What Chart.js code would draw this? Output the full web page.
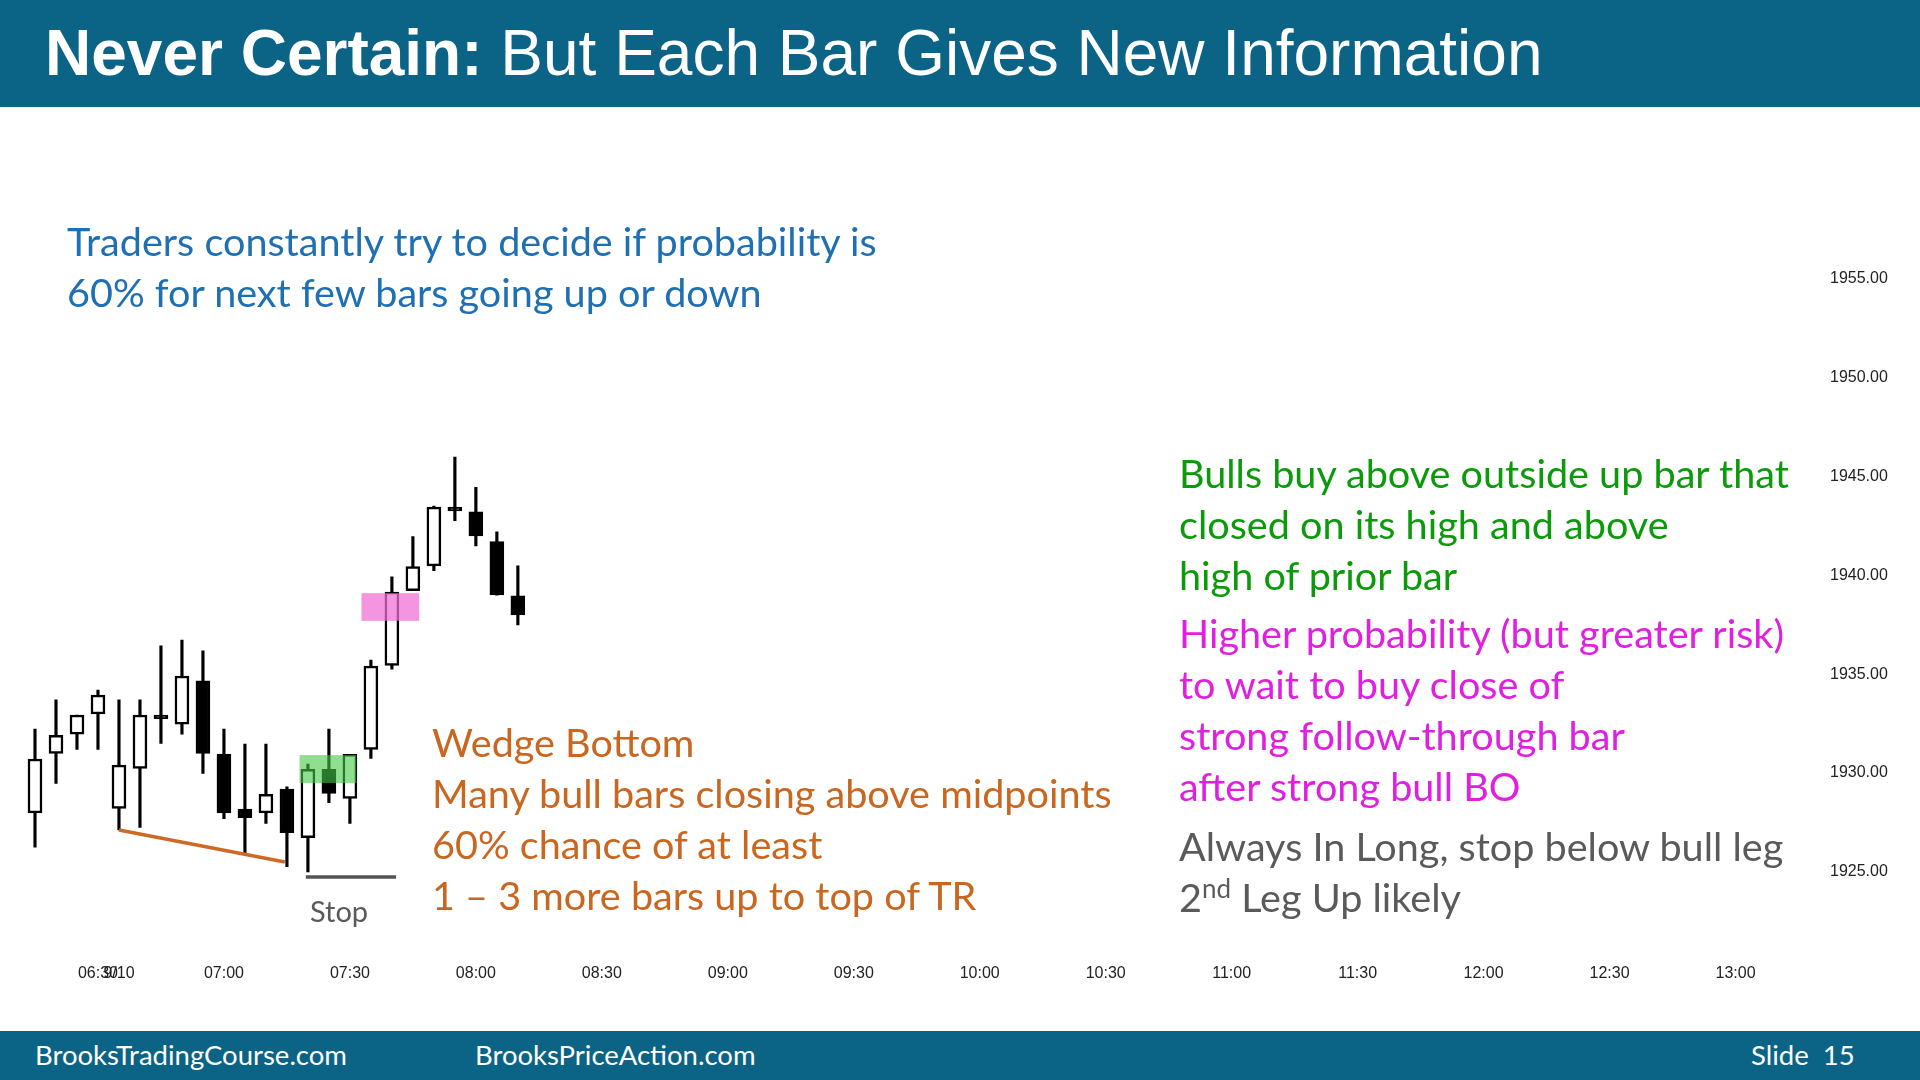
<!DOCTYPE html>
<html>
<head>
<meta charset="utf-8">
<script src="https://cdn.jsdelivr.net/npm/chart.js@4.4.0/dist/chart.umd.min.js"></script>
<style>
  body { margin: 0; width: 1920px; height: 1080px; background: #fff; position: relative; overflow: hidden; font-family: Lato, "Open Sans", sans-serif; }
  .bar { position: absolute; left: 0; width: 1920px; background: #0b6386; color: #fff; }
  #top { top: 0; height: 107px; }
  #top h1 { margin: 0; position: absolute; left: 45px; top: 16px; font: 64px "Liberation Sans", Arial, sans-serif; white-space: nowrap; }
  #bottom { top: 1031px; height: 49px; font-size: 27.5px; }
  #bottom span { position: absolute; top: 7px; }
  #wrap { position: absolute; left: 0; top: 107px; width: 1920px; height: 923px; }
  .txt { position: absolute; font-size: 39.6px; line-height: 51px; white-space: nowrap; }
</style>
</head>
<body>
<div class="bar" id="top"><h1><b>Never Certain:</b> But Each Bar Gives New Information</h1></div>
<div id="wrap"><canvas id="c" width="1920" height="923"></canvas></div>

<div class="txt" style="left:67px;top:215px;color:#1f6fb4">Traders constantly try to decide if probability is<br>60% for next few bars going up or down</div>
<div class="txt" style="left:1179px;top:447px;color:#0a9a0a">Bulls buy above outside up bar that<br>closed on its high and above<br>high of prior bar</div>
<div class="txt" style="left:1179px;top:607px;color:#e020e0">Higher probability (but greater risk)<br>to wait to buy close of<br>strong follow-through bar<br>after strong bull BO</div>
<div class="txt" style="left:1179px;top:820px;color:#5a5a5a">Always In Long, stop below bull leg<br>2<sup style="font-size:26px;line-height:0">nd</sup> Leg Up likely</div>
<div class="txt" style="left:432px;top:716px;color:#c9661f">Wedge Bottom<br>Many bull bars closing above midpoints<br>60% chance of at least<br>1 – 3 more bars up to top of TR</div>
<div class="txt" style="left:310px;top:894px;color:#5a5a5a;font-size:29px;line-height:34px">Stop</div>

<div class="bar" id="bottom">
  <span style="left:35px">BrooksTradingCourse.com</span>
  <span style="left:475px">BrooksPriceAction.com</span>
  <span style="left:1751px">Slide&nbsp;&nbsp;15</span>
</div>

<script>
// 5-minute bars, 9/10 session
const opens  = [1927.98, 1931.0, 1931.97, 1932.99, 1928.21, 1930.24, 1932.94, 1932.48, 1934.67, 1930.96, 1928.18, 1927.99,
                1929.19, 1926.73, 1930.19, 1928.72, 1931.2, 1935.45, 1939.23, 1940.48, 1943.45, 1943.22, 1941.71, 1938.97];
const highs  = [1932.23, 1933.7, 1932.94, 1934.2, 1933.7, 1933.7, 1936.44, 1936.73, 1936.19, 1932.23, 1931.47, 1931.47,
                1929.3, 1930.46, 1932.23, 1930.95, 1935.72, 1939.93, 1941.96, 1943.5, 1945.98, 1944.46, 1942.2, 1940.48];
const lows   = [1926.25, 1929.48, 1931.2, 1931.2, 1927.12, 1927.25, 1931.5, 1931.97, 1929.98, 1927.7, 1925.94, 1927.45,
                1925.26, 1925.0, 1928.5, 1927.45, 1930.74, 1935.25, 1939.23, 1940.24, 1942.77, 1941.49, 1939.0, 1937.49];
const closes = [1930.71, 1931.91, 1932.94, 1933.95, 1930.4, 1932.94, 1932.75, 1934.91, 1931.0, 1927.99, 1927.74, 1928.92,
                1926.98, 1930.19, 1928.97, 1930.95, 1935.41, 1939.16, 1940.44, 1943.45, 1943.26, 1942.0, 1939.01, 1938.0];
const yTicks = [1925, 1930, 1935, 1940, 1945, 1950, 1955];

// x categories: one per 5-minute slot, first bar 06:15
const slots = [];
for (let m = 6 * 60 + 15; slots.length < 86; m += 5) {
  slots.push(String(Math.floor(m / 60)).padStart(2, '0') + ':' + String(m % 60).padStart(2, '0'));
}

// annotations in bar index / price
const pinkBox  = [15.55, 18.3, 1937.7, 1939.1];
const greenBox = [12.6, 15.3, 1929.5, 1930.91];
const wedgeLine = [[4, 1927.12], [11.9, 1925.5]];
const stopLine  = [[12.9, 1924.74], [17.2, 1924.74]];

const bull = opens.map((o, i) => closes[i] >= o);

const marks = {
  id: 'marks',
  afterDatasetsDraw(chart) {
    const { ctx, scales: { x, y } } = chart;
    const w = x.getPixelForValue(1) - x.getPixelForValue(0);
    const px = v => x.getPixelForValue(0) + v * w;
    const box = (b, col) => {
      ctx.fillStyle = col;
      ctx.fillRect(px(b[0]), y.getPixelForValue(b[3]), px(b[1]) - px(b[0]), y.getPixelForValue(b[2]) - y.getPixelForValue(b[3]));
    };
    const line = (l, col) => {
      ctx.strokeStyle = col; ctx.lineWidth = 3.5;
      ctx.beginPath();
      ctx.moveTo(px(l[0][0]), y.getPixelForValue(l[0][1]));
      ctx.lineTo(px(l[1][0]), y.getPixelForValue(l[1][1]));
      ctx.stroke();
    };
    ctx.save();
    box(pinkBox, 'rgba(240,110,210,0.72)');
    box(greenBox, 'rgba(70,200,70,0.6)');
    line(wedgeLine, '#cf6a26');
    line(stopLine, '#555555');
    ctx.restore();
  }
};

new Chart(document.getElementById('c'), {
  type: 'bar',
  data: {
    labels: slots,
    datasets: [
      {
        label: 'body',
        data: opens.map((o, i) => [o, closes[i]]),
        backgroundColor: bull.map(b => b ? '#ffffff' : '#000000'),
        borderColor: '#000',
        borderWidth: 2.5,
        borderSkipped: false,
        barThickness: 14,
        minBarLength: 3,
        grouped: false
      },
      {
        label: 'wick',
        data: lows.map((l, i) => [l, highs[i]]),
        backgroundColor: '#000',
        barThickness: 2.5,
        grouped: false
      }
    ]
  },
  options: {
    responsive: false,
    animation: false,
    devicePixelRatio: 1,
    layout: { padding: { left: 24.5, top: 73, right: 0, bottom: 0 } },
    plugins: { legend: { display: false }, tooltip: { enabled: false } },
    scales: {
      x: {
        grid: { display: false, drawTicks: false },
        border: { display: false },
        afterFit: s => { s.height = 79; },
        ticks: {
          autoSkip: false, maxRotation: 0, padding: 13,
          color: '#222', font: { family: 'Liberation Sans', size: 16 },
          callback: (v, i) => {
            const t = slots[i];
            if (t === '06:35') return '9/10';
            return (t.endsWith(':00') || t.endsWith(':30')) ? t : '';
          }
        }
      },
      y: {
        position: 'right',
        min: 1921, max: 1960,
        grid: { display: false, drawTicks: false },
        border: { display: false },
        afterFit: s => { s.width = 90; },
        afterBuildTicks: s => { s.ticks = yTicks.map(v => ({ value: v })); },
        ticks: {
          padding: 0, color: '#222', align: 'center',
          font: { family: 'Liberation Sans', size: 16 },
          callback: v => v.toFixed(2)
        }
      }
    }
  },
  plugins: [marks]
});
</script>
</body>
</html>
